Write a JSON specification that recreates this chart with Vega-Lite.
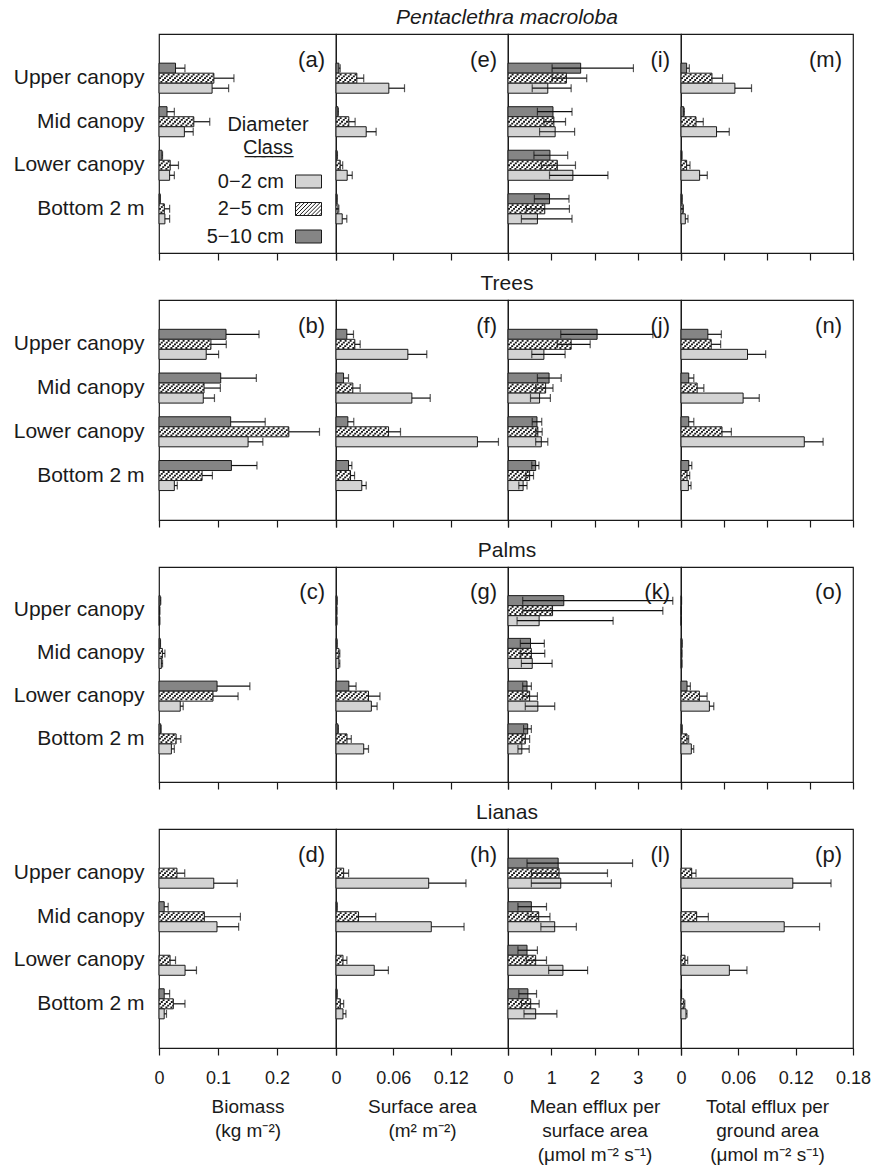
{
"$schema": "https://vega.github.io/schema/vega-lite/v6.json",
"background": "white",
"padding": {"left": 12, "top": 6, "right": 10, "bottom": 5},
"config": {
 "font": "Liberation Sans",
 "view": {"stroke": "#1a1a1a", "strokeWidth": 1.2},
 "axisX": {"tickSize": 7, "tickColor": "#1a1a1a", "tickWidth": 1.2, "domain": false, "grid": false, "labelFontSize": 18, "labelPadding": 14, "labelColor": "#1a1a1a", "labelFlush": false, "labelOverlap": false, "format": "~g", "titleFontSize": 19, "titleFontWeight": "normal", "titleColor": "#1a1a1a", "titleLineHeight": 24, "titlePadding": 10},
 "axisY": {"ticks": false, "domain": false, "grid": false, "labelFontSize": 21, "labelPadding": 15, "labelColor": "#1a1a1a", "labelLimit": 300},
 "title": {"fontSize": 21, "fontWeight": "normal", "color": "#1a1a1a", "anchor": "middle", "offset": 6},
 "legend": {"labelColor": "#1a1a1a", "titleColor": "#1a1a1a"}
},
"datasets": {"d": [
{"g":"P","m":"b","c":"Upper canopy","d":"5−10 cm","v":0.028,"hi":0.044},
{"g":"P","m":"b","c":"Upper canopy","d":"2−5 cm","v":0.093,"hi":0.127},
{"g":"P","m":"b","c":"Upper canopy","d":"0−2 cm","v":0.090,"hi":0.118},
{"g":"P","m":"b","c":"Mid canopy","d":"5−10 cm","v":0.0136,"hi":0.026},
{"g":"P","m":"b","c":"Mid canopy","d":"2−5 cm","v":0.059,"hi":0.086},
{"g":"P","m":"b","c":"Mid canopy","d":"0−2 cm","v":0.043,"hi":0.058},
{"g":"P","m":"b","c":"Lower canopy","d":"5−10 cm","v":0.005,"hi":0.006},
{"g":"P","m":"b","c":"Lower canopy","d":"2−5 cm","v":0.019,"hi":0.033},
{"g":"P","m":"b","c":"Lower canopy","d":"0−2 cm","v":0.018,"hi":0.026},
{"g":"P","m":"b","c":"Bottom 2 m","d":"5−10 cm","v":0.002,"hi":0.002},
{"g":"P","m":"b","c":"Bottom 2 m","d":"2−5 cm","v":0.009,"hi":0.018},
{"g":"P","m":"b","c":"Bottom 2 m","d":"0−2 cm","v":0.010,"hi":0.018},
{"g":"P","m":"s","c":"Upper canopy","d":"5−10 cm","v":0.003,"hi":0.0044},
{"g":"P","m":"s","c":"Upper canopy","d":"2−5 cm","v":0.0218,"hi":0.029},
{"g":"P","m":"s","c":"Upper canopy","d":"0−2 cm","v":0.0553,"hi":0.0717},
{"g":"P","m":"s","c":"Mid canopy","d":"5−10 cm","v":0.002,"hi":0.0025},
{"g":"P","m":"s","c":"Mid canopy","d":"2−5 cm","v":0.0134,"hi":0.020},
{"g":"P","m":"s","c":"Mid canopy","d":"0−2 cm","v":0.0316,"hi":0.042},
{"g":"P","m":"s","c":"Lower canopy","d":"5−10 cm","v":0.001,"hi":0.0015},
{"g":"P","m":"s","c":"Lower canopy","d":"2−5 cm","v":0.0044,"hi":0.007},
{"g":"P","m":"s","c":"Lower canopy","d":"0−2 cm","v":0.0117,"hi":0.017},
{"g":"P","m":"s","c":"Bottom 2 m","d":"5−10 cm","v":0.001,"hi":0.0012},
{"g":"P","m":"s","c":"Bottom 2 m","d":"2−5 cm","v":0.002,"hi":0.003},
{"g":"P","m":"s","c":"Bottom 2 m","d":"0−2 cm","v":0.0065,"hi":0.0113},
{"g":"P","m":"e","c":"Upper canopy","d":"5−10 cm","v":1.68,"lo":1.02,"hi":2.90},
{"g":"P","m":"e","c":"Upper canopy","d":"2−5 cm","v":1.35,"lo":1.02,"hi":1.82},
{"g":"P","m":"e","c":"Upper canopy","d":"0−2 cm","v":0.92,"lo":0.56,"hi":1.46},
{"g":"P","m":"e","c":"Mid canopy","d":"5−10 cm","v":1.04,"lo":0.68,"hi":1.48},
{"g":"P","m":"e","c":"Mid canopy","d":"2−5 cm","v":1.06,"lo":0.83,"hi":1.33},
{"g":"P","m":"e","c":"Mid canopy","d":"0−2 cm","v":1.09,"lo":0.73,"hi":1.54},
{"g":"P","m":"e","c":"Lower canopy","d":"5−10 cm","v":0.97,"lo":0.60,"hi":1.38},
{"g":"P","m":"e","c":"Lower canopy","d":"2−5 cm","v":1.14,"lo":0.77,"hi":1.56},
{"g":"P","m":"e","c":"Lower canopy","d":"0−2 cm","v":1.50,"lo":0.96,"hi":2.31},
{"g":"P","m":"e","c":"Bottom 2 m","d":"5−10 cm","v":0.96,"lo":0.61,"hi":1.41},
{"g":"P","m":"e","c":"Bottom 2 m","d":"2−5 cm","v":0.85,"lo":0.42,"hi":1.42},
{"g":"P","m":"e","c":"Bottom 2 m","d":"0−2 cm","v":0.68,"lo":0.31,"hi":1.48},
{"g":"P","m":"t","c":"Upper canopy","d":"5−10 cm","v":0.0059,"hi":0.0087},
{"g":"P","m":"t","c":"Upper canopy","d":"2−5 cm","v":0.0324,"hi":0.0435},
{"g":"P","m":"t","c":"Upper canopy","d":"0−2 cm","v":0.0564,"hi":0.0738},
{"g":"P","m":"t","c":"Mid canopy","d":"5−10 cm","v":0.0028,"hi":0.0035},
{"g":"P","m":"t","c":"Mid canopy","d":"2−5 cm","v":0.0157,"hi":0.0233},
{"g":"P","m":"t","c":"Mid canopy","d":"0−2 cm","v":0.0372,"hi":0.0505},
{"g":"P","m":"t","c":"Lower canopy","d":"5−10 cm","v":0.0008,"hi":0.001},
{"g":"P","m":"t","c":"Lower canopy","d":"2−5 cm","v":0.0059,"hi":0.0094},
{"g":"P","m":"t","c":"Lower canopy","d":"0−2 cm","v":0.0195,"hi":0.0275},
{"g":"P","m":"t","c":"Bottom 2 m","d":"5−10 cm","v":0.001,"hi":0.0012},
{"g":"P","m":"t","c":"Bottom 2 m","d":"2−5 cm","v":0.002,"hi":0.0025},
{"g":"P","m":"t","c":"Bottom 2 m","d":"0−2 cm","v":0.0045,"hi":0.0073},
{"g":"T","m":"b","c":"Upper canopy","d":"5−10 cm","v":0.1136,"hi":0.1695},
{"g":"T","m":"b","c":"Upper canopy","d":"2−5 cm","v":0.088,"hi":0.114},
{"g":"T","m":"b","c":"Upper canopy","d":"0−2 cm","v":0.080,"hi":0.101},
{"g":"T","m":"b","c":"Mid canopy","d":"5−10 cm","v":0.1046,"hi":0.165},
{"g":"T","m":"b","c":"Mid canopy","d":"2−5 cm","v":0.0763,"hi":0.104},
{"g":"T","m":"b","c":"Mid canopy","d":"0−2 cm","v":0.075,"hi":0.094},
{"g":"T","m":"b","c":"Lower canopy","d":"5−10 cm","v":0.1215,"hi":0.180},
{"g":"T","m":"b","c":"Lower canopy","d":"2−5 cm","v":0.220,"hi":0.272},
{"g":"T","m":"b","c":"Lower canopy","d":"0−2 cm","v":0.151,"hi":0.176},
{"g":"T","m":"b","c":"Bottom 2 m","d":"5−10 cm","v":0.1227,"hi":0.166},
{"g":"T","m":"b","c":"Bottom 2 m","d":"2−5 cm","v":0.073,"hi":0.0905},
{"g":"T","m":"b","c":"Bottom 2 m","d":"0−2 cm","v":0.026,"hi":0.031},
{"g":"T","m":"s","c":"Upper canopy","d":"5−10 cm","v":0.0113,"hi":0.0183},
{"g":"T","m":"s","c":"Upper canopy","d":"2−5 cm","v":0.0197,"hi":0.0253},
{"g":"T","m":"s","c":"Upper canopy","d":"0−2 cm","v":0.0752,"hi":0.095},
{"g":"T","m":"s","c":"Mid canopy","d":"5−10 cm","v":0.0079,"hi":0.0131},
{"g":"T","m":"s","c":"Mid canopy","d":"2−5 cm","v":0.0176,"hi":0.0253},
{"g":"T","m":"s","c":"Mid canopy","d":"0−2 cm","v":0.0794,"hi":0.0986},
{"g":"T","m":"s","c":"Lower canopy","d":"5−10 cm","v":0.0124,"hi":0.0186},
{"g":"T","m":"s","c":"Lower canopy","d":"2−5 cm","v":0.055,"hi":0.0675},
{"g":"T","m":"s","c":"Lower canopy","d":"0−2 cm","v":0.148,"hi":0.170},
{"g":"T","m":"s","c":"Bottom 2 m","d":"5−10 cm","v":0.0131,"hi":0.0166},
{"g":"T","m":"s","c":"Bottom 2 m","d":"2−5 cm","v":0.0152,"hi":0.0194},
{"g":"T","m":"s","c":"Bottom 2 m","d":"0−2 cm","v":0.027,"hi":0.0316},
{"g":"T","m":"e","c":"Upper canopy","d":"5−10 cm","v":2.06,"lo":1.22,"hi":3.35},
{"g":"T","m":"e","c":"Upper canopy","d":"2−5 cm","v":1.46,"lo":1.14,"hi":1.90},
{"g":"T","m":"e","c":"Upper canopy","d":"0−2 cm","v":0.83,"lo":0.55,"hi":1.32},
{"g":"T","m":"e","c":"Mid canopy","d":"5−10 cm","v":0.95,"lo":0.68,"hi":1.23},
{"g":"T","m":"e","c":"Mid canopy","d":"2−5 cm","v":0.87,"lo":0.64,"hi":1.04},
{"g":"T","m":"e","c":"Mid canopy","d":"0−2 cm","v":0.73,"lo":0.52,"hi":0.98},
{"g":"T","m":"e","c":"Lower canopy","d":"5−10 cm","v":0.67,"lo":0.56,"hi":0.78},
{"g":"T","m":"e","c":"Lower canopy","d":"2−5 cm","v":0.69,"lo":0.64,"hi":0.79},
{"g":"T","m":"e","c":"Lower canopy","d":"0−2 cm","v":0.77,"lo":0.64,"hi":0.92},
{"g":"T","m":"e","c":"Bottom 2 m","d":"5−10 cm","v":0.64,"lo":0.55,"hi":0.715},
{"g":"T","m":"e","c":"Bottom 2 m","d":"2−5 cm","v":0.50,"lo":0.41,"hi":0.59},
{"g":"T","m":"e","c":"Bottom 2 m","d":"0−2 cm","v":0.35,"lo":0.25,"hi":0.44},
{"g":"T","m":"t","c":"Upper canopy","d":"5−10 cm","v":0.0281,"hi":0.0422},
{"g":"T","m":"t","c":"Upper canopy","d":"2−5 cm","v":0.0316,"hi":0.0415},
{"g":"T","m":"t","c":"Upper canopy","d":"0−2 cm","v":0.0696,"hi":0.0886},
{"g":"T","m":"t","c":"Mid canopy","d":"5−10 cm","v":0.0081,"hi":0.0134},
{"g":"T","m":"t","c":"Mid canopy","d":"2−5 cm","v":0.0169,"hi":0.0239},
{"g":"T","m":"t","c":"Mid canopy","d":"0−2 cm","v":0.065,"hi":0.0819},
{"g":"T","m":"t","c":"Lower canopy","d":"5−10 cm","v":0.0081,"hi":0.0134},
{"g":"T","m":"t","c":"Lower canopy","d":"2−5 cm","v":0.0429,"hi":0.0527},
{"g":"T","m":"t","c":"Lower canopy","d":"0−2 cm","v":0.129,"hi":0.1487},
{"g":"T","m":"t","c":"Bottom 2 m","d":"5−10 cm","v":0.0081,"hi":0.0113},
{"g":"T","m":"t","c":"Bottom 2 m","d":"2−5 cm","v":0.0063,"hi":0.0091},
{"g":"T","m":"t","c":"Bottom 2 m","d":"0−2 cm","v":0.0077,"hi":0.0105},
{"g":"Pa","m":"b","c":"Upper canopy","d":"5−10 cm","v":0.002,"hi":0.003},
{"g":"Pa","m":"b","c":"Upper canopy","d":"2−5 cm","v":0.001,"hi":0.0015},
{"g":"Pa","m":"b","c":"Upper canopy","d":"0−2 cm","v":0.001,"hi":0.0015},
{"g":"Pa","m":"b","c":"Mid canopy","d":"5−10 cm","v":0.002,"hi":0.0025},
{"g":"Pa","m":"b","c":"Mid canopy","d":"2−5 cm","v":0.0057,"hi":0.010},
{"g":"Pa","m":"b","c":"Mid canopy","d":"0−2 cm","v":0.004,"hi":0.006},
{"g":"Pa","m":"b","c":"Lower canopy","d":"5−10 cm","v":0.0984,"hi":0.154},
{"g":"Pa","m":"b","c":"Lower canopy","d":"2−5 cm","v":0.0915,"hi":0.134},
{"g":"Pa","m":"b","c":"Lower canopy","d":"0−2 cm","v":0.036,"hi":0.041},
{"g":"Pa","m":"b","c":"Bottom 2 m","d":"5−10 cm","v":0.003,"hi":0.0035},
{"g":"Pa","m":"b","c":"Bottom 2 m","d":"2−5 cm","v":0.029,"hi":0.037},
{"g":"Pa","m":"b","c":"Bottom 2 m","d":"0−2 cm","v":0.021,"hi":0.026},
{"g":"Pa","m":"s","c":"Upper canopy","d":"5−10 cm","v":0.001,"hi":0.0012},
{"g":"Pa","m":"s","c":"Upper canopy","d":"2−5 cm","v":0.0008,"hi":0.001},
{"g":"Pa","m":"s","c":"Upper canopy","d":"0−2 cm","v":0.0008,"hi":0.001},
{"g":"Pa","m":"s","c":"Mid canopy","d":"5−10 cm","v":0.001,"hi":0.0012},
{"g":"Pa","m":"s","c":"Mid canopy","d":"2−5 cm","v":0.003,"hi":0.004},
{"g":"Pa","m":"s","c":"Mid canopy","d":"0−2 cm","v":0.003,"hi":0.004},
{"g":"Pa","m":"s","c":"Lower canopy","d":"5−10 cm","v":0.0134,"hi":0.021},
{"g":"Pa","m":"s","c":"Lower canopy","d":"2−5 cm","v":0.034,"hi":0.046},
{"g":"Pa","m":"s","c":"Lower canopy","d":"0−2 cm","v":0.037,"hi":0.043},
{"g":"Pa","m":"s","c":"Bottom 2 m","d":"5−10 cm","v":0.002,"hi":0.0025},
{"g":"Pa","m":"s","c":"Bottom 2 m","d":"2−5 cm","v":0.0115,"hi":0.016},
{"g":"Pa","m":"s","c":"Bottom 2 m","d":"0−2 cm","v":0.029,"hi":0.034},
{"g":"Pa","m":"e","c":"Upper canopy","d":"5−10 cm","v":1.29,"lo":0.34,"hi":3.81},
{"g":"Pa","m":"e","c":"Upper canopy","d":"2−5 cm","v":1.03,"lo":0.34,"hi":3.58},
{"g":"Pa","m":"e","c":"Upper canopy","d":"0−2 cm","v":0.72,"lo":0.21,"hi":2.43},
{"g":"Pa","m":"e","c":"Mid canopy","d":"5−10 cm","v":0.52,"lo":0.285,"hi":0.84},
{"g":"Pa","m":"e","c":"Mid canopy","d":"2−5 cm","v":0.54,"lo":0.285,"hi":0.85},
{"g":"Pa","m":"e","c":"Mid canopy","d":"0−2 cm","v":0.56,"lo":0.31,"hi":1.02},
{"g":"Pa","m":"e","c":"Lower canopy","d":"5−10 cm","v":0.44,"lo":0.34,"hi":0.54},
{"g":"Pa","m":"e","c":"Lower canopy","d":"2−5 cm","v":0.50,"lo":0.34,"hi":0.68},
{"g":"Pa","m":"e","c":"Lower canopy","d":"0−2 cm","v":0.69,"lo":0.40,"hi":1.08},
{"g":"Pa","m":"e","c":"Bottom 2 m","d":"5−10 cm","v":0.455,"lo":0.36,"hi":0.54},
{"g":"Pa","m":"e","c":"Bottom 2 m","d":"2−5 cm","v":0.40,"lo":0.32,"hi":0.50},
{"g":"Pa","m":"e","c":"Bottom 2 m","d":"0−2 cm","v":0.32,"lo":0.23,"hi":0.49},
{"g":"Pa","m":"t","c":"Upper canopy","d":"5−10 cm","v":0.0005,"hi":0.0006},
{"g":"Pa","m":"t","c":"Upper canopy","d":"2−5 cm","v":0.0003,"hi":0.0004},
{"g":"Pa","m":"t","c":"Upper canopy","d":"0−2 cm","v":0.0003,"hi":0.0004},
{"g":"Pa","m":"t","c":"Mid canopy","d":"5−10 cm","v":0.001,"hi":0.0012},
{"g":"Pa","m":"t","c":"Mid canopy","d":"2−5 cm","v":0.0008,"hi":0.001},
{"g":"Pa","m":"t","c":"Mid canopy","d":"0−2 cm","v":0.0008,"hi":0.001},
{"g":"Pa","m":"t","c":"Lower canopy","d":"5−10 cm","v":0.0063,"hi":0.0098},
{"g":"Pa","m":"t","c":"Lower canopy","d":"2−5 cm","v":0.0192,"hi":0.0273},
{"g":"Pa","m":"t","c":"Lower canopy","d":"0−2 cm","v":0.0297,"hi":0.0343},
{"g":"Pa","m":"t","c":"Bottom 2 m","d":"5−10 cm","v":0.001,"hi":0.0012},
{"g":"Pa","m":"t","c":"Bottom 2 m","d":"2−5 cm","v":0.0063,"hi":0.008},
{"g":"Pa","m":"t","c":"Bottom 2 m","d":"0−2 cm","v":0.0108,"hi":0.0133},
{"g":"L","m":"b","c":"Upper canopy","d":"2−5 cm","v":0.0304,"hi":0.0436},
{"g":"L","m":"b","c":"Upper canopy","d":"0−2 cm","v":0.0928,"hi":0.1326},
{"g":"L","m":"b","c":"Mid canopy","d":"5−10 cm","v":0.0088,"hi":0.0155},
{"g":"L","m":"b","c":"Mid canopy","d":"2−5 cm","v":0.0768,"hi":0.138},
{"g":"L","m":"b","c":"Mid canopy","d":"0−2 cm","v":0.0983,"hi":0.135},
{"g":"L","m":"b","c":"Lower canopy","d":"2−5 cm","v":0.0188,"hi":0.028},
{"g":"L","m":"b","c":"Lower canopy","d":"0−2 cm","v":0.0442,"hi":0.0635},
{"g":"L","m":"b","c":"Bottom 2 m","d":"5−10 cm","v":0.0088,"hi":0.018},
{"g":"L","m":"b","c":"Bottom 2 m","d":"2−5 cm","v":0.0243,"hi":0.044},
{"g":"L","m":"b","c":"Bottom 2 m","d":"0−2 cm","v":0.0088,"hi":0.0127},
{"g":"L","m":"s","c":"Upper canopy","d":"2−5 cm","v":0.008,"hi":0.0132},
{"g":"L","m":"s","c":"Upper canopy","d":"0−2 cm","v":0.097,"hi":0.136},
{"g":"L","m":"s","c":"Mid canopy","d":"5−10 cm","v":0.001,"hi":0.0012},
{"g":"L","m":"s","c":"Mid canopy","d":"2−5 cm","v":0.0236,"hi":0.0416},
{"g":"L","m":"s","c":"Mid canopy","d":"0−2 cm","v":0.0997,"hi":0.134},
{"g":"L","m":"s","c":"Lower canopy","d":"2−5 cm","v":0.0073,"hi":0.0114},
{"g":"L","m":"s","c":"Lower canopy","d":"0−2 cm","v":0.040,"hi":0.0548},
{"g":"L","m":"s","c":"Bottom 2 m","d":"5−10 cm","v":0.001,"hi":0.0012},
{"g":"L","m":"s","c":"Bottom 2 m","d":"2−5 cm","v":0.0045,"hi":0.008},
{"g":"L","m":"s","c":"Bottom 2 m","d":"0−2 cm","v":0.0073,"hi":0.0104},
{"g":"L","m":"e","c":"Upper canopy","d":"5−10 cm","v":1.16,"lo":0.44,"hi":2.88},
{"g":"L","m":"e","c":"Upper canopy","d":"2−5 cm","v":1.18,"lo":0.54,"hi":2.30},
{"g":"L","m":"e","c":"Upper canopy","d":"0−2 cm","v":1.22,"lo":0.54,"hi":2.39},
{"g":"L","m":"e","c":"Mid canopy","d":"5−10 cm","v":0.54,"lo":0.23,"hi":0.89},
{"g":"L","m":"e","c":"Mid canopy","d":"2−5 cm","v":0.71,"lo":0.46,"hi":0.97},
{"g":"L","m":"e","c":"Mid canopy","d":"0−2 cm","v":1.08,"lo":0.76,"hi":1.58},
{"g":"L","m":"e","c":"Lower canopy","d":"5−10 cm","v":0.44,"lo":0.23,"hi":0.68},
{"g":"L","m":"e","c":"Lower canopy","d":"2−5 cm","v":0.64,"lo":0.42,"hi":0.89},
{"g":"L","m":"e","c":"Lower canopy","d":"0−2 cm","v":1.27,"lo":0.94,"hi":1.84},
{"g":"L","m":"e","c":"Bottom 2 m","d":"5−10 cm","v":0.46,"lo":0.25,"hi":0.66},
{"g":"L","m":"e","c":"Bottom 2 m","d":"2−5 cm","v":0.525,"lo":0.31,"hi":0.72},
{"g":"L","m":"e","c":"Bottom 2 m","d":"0−2 cm","v":0.64,"lo":0.37,"hi":1.13},
{"g":"L","m":"t","c":"Upper canopy","d":"2−5 cm","v":0.0112,"hi":0.0157},
{"g":"L","m":"t","c":"Upper canopy","d":"0−2 cm","v":0.117,"hi":0.157},
{"g":"L","m":"t","c":"Mid canopy","d":"2−5 cm","v":0.0164,"hi":0.0286},
{"g":"L","m":"t","c":"Mid canopy","d":"0−2 cm","v":0.108,"hi":0.145},
{"g":"L","m":"t","c":"Lower canopy","d":"2−5 cm","v":0.0042,"hi":0.007},
{"g":"L","m":"t","c":"Lower canopy","d":"0−2 cm","v":0.0506,"hi":0.069},
{"g":"L","m":"t","c":"Bottom 2 m","d":"5−10 cm","v":0.0005,"hi":0.0006},
{"g":"L","m":"t","c":"Bottom 2 m","d":"2−5 cm","v":0.003,"hi":0.004},
{"g":"L","m":"t","c":"Bottom 2 m","d":"0−2 cm","v":0.0052,"hi":0.0063}
]},
"columns": 4,
"spacing": {"row": 47, "column": 0},
"bounds": "flush",
"align": "each",
"resolve": {"scale": {"fill": "independent"}, "legend": {"fill": "independent"}},
"concat": [
{"width":177,"height":219,"data":{"name":"d"},"transform":[{"filter":"datum.g=='P'&&datum.m=='b'"}],
 "encoding":{"y":{"field":"c","type":"nominal","scale":{"domain":["Upper canopy","Mid canopy","Lower canopy","Bottom 2 m"],"paddingInner":0.31,"paddingOuter":0.67},"axis":{"title":null}},
  "x":{"field":"v","type":"quantitative","scale":{"domain":[0,0.3],"nice":false},"axis":{"values":[0,0.1,0.2,0.3],"labels":false,"title":null}}},
 "layer":[
  {"mark":{"type":"bar","stroke":"#1a1a1a","strokeWidth":1},"encoding":{"yOffset":{"field":"d","type":"nominal","scale":{"domain":["5−10 cm","2−5 cm","0−2 cm"],"paddingInner":0,"paddingOuter":0}},"fill":{"field":"d","type":"nominal","scale":{"domain":["0−2 cm","2−5 cm","5−10 cm"],"range":["#d3d3d3","#ffffff","#858585"]},
   "legend":{"orient":"none","legendX":136,"legendY":134,"title":null,"labelFontSize":20,"labelAlign":"right","labelOffset":-38,"labelLimit":300,"symbolType":"M-1,-0.5H1V0.5H-1Z","symbolSize":676,"symbolStrokeColor":"#1a1a1a","symbolStrokeWidth":1,"rowPadding":3.5,
    "encode":{"symbols":{"update":{"shape":{"signal":"datum.value=='2−5 cm'?'M-1,-0.5H1V0.5H-1Z M-1,-0.4L-0.9,-0.5 M-1,-0.1L-0.6,-0.5 M-1,0.2L-0.3,-0.5 M-1,0.5L0,-0.5 M-0.7,0.5L0.3,-0.5 M-0.4,0.5L0.6,-0.5 M-0.1,0.5L0.9,-0.5 M0.2,0.5L1,-0.3 M0.5,0.5L1,0 M0.8,0.5L1,0.3':'M-1,-0.5H1V0.5H-1Z'"}}}}}}}},
  {"transform":[{"filter":"datum.d=='2−5 cm'"}],"mark":{"type":"rule","color":"#1a1a1a","strokeWidth":1.8,"strokeDash":[2,3],"yOffset":-3.6,"strokeDashOffset":-3.6},"encoding":{"x":{"datum":0,"type":"quantitative"},"x2":{"field":"v"}}},
  {"transform":[{"filter":"datum.d=='2−5 cm'"}],"mark":{"type":"rule","color":"#1a1a1a","strokeWidth":1.8,"strokeDash":[2,3],"yOffset":-1.8,"strokeDashOffset":-1.8},"encoding":{"x":{"datum":0,"type":"quantitative"},"x2":{"field":"v"}}},
  {"transform":[{"filter":"datum.d=='2−5 cm'"}],"mark":{"type":"rule","color":"#1a1a1a","strokeWidth":1.8,"strokeDash":[2,3],"yOffset":0,"strokeDashOffset":0},"encoding":{"x":{"datum":0,"type":"quantitative"},"x2":{"field":"v"}}},
  {"transform":[{"filter":"datum.d=='2−5 cm'"}],"mark":{"type":"rule","color":"#1a1a1a","strokeWidth":1.8,"strokeDash":[2,3],"yOffset":1.8,"strokeDashOffset":1.8},"encoding":{"x":{"datum":0,"type":"quantitative"},"x2":{"field":"v"}}},
  {"transform":[{"filter":"datum.d=='2−5 cm'"}],"mark":{"type":"rule","color":"#1a1a1a","strokeWidth":1.8,"strokeDash":[2,3],"yOffset":3.6,"strokeDashOffset":3.6},"encoding":{"x":{"datum":0,"type":"quantitative"},"x2":{"field":"v"}}},
  {"mark":{"type":"rule","color":"#111111","strokeWidth":1.2},"encoding":{"yOffset":{"field":"d","type":"nominal","scale":{"domain":["5−10 cm","2−5 cm","0−2 cm"],"paddingInner":0,"paddingOuter":0}},"x2":{"field":"hi"}}},
  {"mark":{"type":"tick","color":"#111111","thickness":1.2,"size":8},"encoding":{"yOffset":{"field":"d","type":"nominal","scale":{"domain":["5−10 cm","2−5 cm","0−2 cm"],"paddingInner":0,"paddingOuter":0}},"x":{"field":"hi","type":"quantitative"}}},
  {"transform":[{"filter":"datum.c=='Upper canopy'&&datum.d=='0−2 cm'"}],"mark":{"type":"text","align":"right","baseline":"middle","dx":-11,"dy":-18,"fontSize":22,"color":"#1a1a1a","text":"(a)"},"encoding":{"x":{"datum":0.3,"type":"quantitative"}}},
  {"transform":[{"filter":"datum.c=='Mid canopy'&&datum.d=='0−2 cm'"}],"mark":{"type":"text","align":"center","baseline":"middle","dy":3.3,"fontSize":20,"lineHeight":23,"color":"#1a1a1a","text":["Diameter","C̲l̲a̲s̲s̲"]},"encoding":{"x":{"datum":0.1847,"type":"quantitative"}}}
 ]},
{"width":172,"height":219,"title":{"text":"Pentaclethra macroloba","fontStyle":"italic","dx":85},"data":{"name":"d"},"transform":[{"filter":"datum.g=='P'&&datum.m=='s'"}],
 "encoding":{"y":{"field":"c","type":"nominal","scale":{"domain":["Upper canopy","Mid canopy","Lower canopy","Bottom 2 m"],"paddingInner":0.31,"paddingOuter":0.67},"axis":null},
  "x":{"field":"v","type":"quantitative","scale":{"domain":[0,0.18],"nice":false},"axis":{"values":[0,0.06,0.12,0.18],"labels":false,"title":null}}},
 "layer":[
  {"mark":{"type":"bar","stroke":"#1a1a1a","strokeWidth":1},"encoding":{"yOffset":{"field":"d","type":"nominal","scale":{"domain":["5−10 cm","2−5 cm","0−2 cm"],"paddingInner":0,"paddingOuter":0}},"fill":{"field":"d","type":"nominal","scale":{"domain":["0−2 cm","2−5 cm","5−10 cm"],"range":["#d3d3d3","#ffffff","#858585"]},"legend":null}}},
  {"transform":[{"filter":"datum.d=='2−5 cm'"}],"mark":{"type":"rule","color":"#1a1a1a","strokeWidth":1.8,"strokeDash":[2,3],"yOffset":-3.6,"strokeDashOffset":-3.6},"encoding":{"x":{"datum":0,"type":"quantitative"},"x2":{"field":"v"}}},
  {"transform":[{"filter":"datum.d=='2−5 cm'"}],"mark":{"type":"rule","color":"#1a1a1a","strokeWidth":1.8,"strokeDash":[2,3],"yOffset":-1.8,"strokeDashOffset":-1.8},"encoding":{"x":{"datum":0,"type":"quantitative"},"x2":{"field":"v"}}},
  {"transform":[{"filter":"datum.d=='2−5 cm'"}],"mark":{"type":"rule","color":"#1a1a1a","strokeWidth":1.8,"strokeDash":[2,3],"yOffset":0,"strokeDashOffset":0},"encoding":{"x":{"datum":0,"type":"quantitative"},"x2":{"field":"v"}}},
  {"transform":[{"filter":"datum.d=='2−5 cm'"}],"mark":{"type":"rule","color":"#1a1a1a","strokeWidth":1.8,"strokeDash":[2,3],"yOffset":1.8,"strokeDashOffset":1.8},"encoding":{"x":{"datum":0,"type":"quantitative"},"x2":{"field":"v"}}},
  {"transform":[{"filter":"datum.d=='2−5 cm'"}],"mark":{"type":"rule","color":"#1a1a1a","strokeWidth":1.8,"strokeDash":[2,3],"yOffset":3.6,"strokeDashOffset":3.6},"encoding":{"x":{"datum":0,"type":"quantitative"},"x2":{"field":"v"}}},
  {"mark":{"type":"rule","color":"#111111","strokeWidth":1.2},"encoding":{"yOffset":{"field":"d","type":"nominal","scale":{"domain":["5−10 cm","2−5 cm","0−2 cm"],"paddingInner":0,"paddingOuter":0}},"x2":{"field":"hi"}}},
  {"mark":{"type":"tick","color":"#111111","thickness":1.2,"size":8},"encoding":{"yOffset":{"field":"d","type":"nominal","scale":{"domain":["5−10 cm","2−5 cm","0−2 cm"],"paddingInner":0,"paddingOuter":0}},"x":{"field":"hi","type":"quantitative"}}},
  {"transform":[{"filter":"datum.c=='Upper canopy'&&datum.d=='0−2 cm'"}],"mark":{"type":"text","align":"right","baseline":"middle","dx":-11,"dy":-18,"fontSize":22,"color":"#1a1a1a","text":"(e)"},"encoding":{"x":{"datum":0.18,"type":"quantitative"}}}
 ]},
{"width":173,"height":219,"data":{"name":"d"},"transform":[{"filter":"datum.g=='P'&&datum.m=='e'"}],
 "encoding":{"y":{"field":"c","type":"nominal","scale":{"domain":["Upper canopy","Mid canopy","Lower canopy","Bottom 2 m"],"paddingInner":0.31,"paddingOuter":0.67},"axis":null},
  "x":{"field":"v","type":"quantitative","scale":{"domain":[0,4],"nice":false},"axis":{"values":[0,1,2,3,4],"labels":false,"title":null}}},
 "layer":[
  {"mark":{"type":"bar","stroke":"#1a1a1a","strokeWidth":1},"encoding":{"yOffset":{"field":"d","type":"nominal","scale":{"domain":["5−10 cm","2−5 cm","0−2 cm"],"paddingInner":0,"paddingOuter":0}},"fill":{"field":"d","type":"nominal","scale":{"domain":["0−2 cm","2−5 cm","5−10 cm"],"range":["#d3d3d3","#ffffff","#858585"]},"legend":null}}},
  {"transform":[{"filter":"datum.d=='2−5 cm'"}],"mark":{"type":"rule","color":"#1a1a1a","strokeWidth":1.8,"strokeDash":[2,3],"yOffset":-3.6,"strokeDashOffset":-3.6},"encoding":{"x":{"datum":0,"type":"quantitative"},"x2":{"field":"v"}}},
  {"transform":[{"filter":"datum.d=='2−5 cm'"}],"mark":{"type":"rule","color":"#1a1a1a","strokeWidth":1.8,"strokeDash":[2,3],"yOffset":-1.8,"strokeDashOffset":-1.8},"encoding":{"x":{"datum":0,"type":"quantitative"},"x2":{"field":"v"}}},
  {"transform":[{"filter":"datum.d=='2−5 cm'"}],"mark":{"type":"rule","color":"#1a1a1a","strokeWidth":1.8,"strokeDash":[2,3],"yOffset":0,"strokeDashOffset":0},"encoding":{"x":{"datum":0,"type":"quantitative"},"x2":{"field":"v"}}},
  {"transform":[{"filter":"datum.d=='2−5 cm'"}],"mark":{"type":"rule","color":"#1a1a1a","strokeWidth":1.8,"strokeDash":[2,3],"yOffset":1.8,"strokeDashOffset":1.8},"encoding":{"x":{"datum":0,"type":"quantitative"},"x2":{"field":"v"}}},
  {"transform":[{"filter":"datum.d=='2−5 cm'"}],"mark":{"type":"rule","color":"#1a1a1a","strokeWidth":1.8,"strokeDash":[2,3],"yOffset":3.6,"strokeDashOffset":3.6},"encoding":{"x":{"datum":0,"type":"quantitative"},"x2":{"field":"v"}}},
  {"mark":{"type":"rule","color":"#111111","strokeWidth":1.2},"encoding":{"yOffset":{"field":"d","type":"nominal","scale":{"domain":["5−10 cm","2−5 cm","0−2 cm"],"paddingInner":0,"paddingOuter":0}},"x":{"field":"lo","type":"quantitative"},"x2":{"field":"hi"}}},
  {"mark":{"type":"tick","color":"#111111","thickness":1.2,"size":8},"encoding":{"yOffset":{"field":"d","type":"nominal","scale":{"domain":["5−10 cm","2−5 cm","0−2 cm"],"paddingInner":0,"paddingOuter":0}},"x":{"field":"lo","type":"quantitative"}}},
  {"mark":{"type":"tick","color":"#111111","thickness":1.2,"size":8},"encoding":{"yOffset":{"field":"d","type":"nominal","scale":{"domain":["5−10 cm","2−5 cm","0−2 cm"],"paddingInner":0,"paddingOuter":0}},"x":{"field":"hi","type":"quantitative"}}},
  {"transform":[{"filter":"datum.c=='Upper canopy'&&datum.d=='0−2 cm'"}],"mark":{"type":"text","align":"right","baseline":"middle","dx":-11,"dy":-18,"fontSize":22,"color":"#1a1a1a","text":"(i)"},"encoding":{"x":{"datum":4,"type":"quantitative"}}}
 ]},
{"width":172,"height":219,"data":{"name":"d"},"transform":[{"filter":"datum.g=='P'&&datum.m=='t'"}],
 "encoding":{"y":{"field":"c","type":"nominal","scale":{"domain":["Upper canopy","Mid canopy","Lower canopy","Bottom 2 m"],"paddingInner":0.31,"paddingOuter":0.67},"axis":null},
  "x":{"field":"v","type":"quantitative","scale":{"domain":[0,0.18],"nice":false},"axis":{"values":[0,0.045,0.09,0.135,0.18],"labels":false,"title":null}}},
 "layer":[
  {"mark":{"type":"bar","stroke":"#1a1a1a","strokeWidth":1},"encoding":{"yOffset":{"field":"d","type":"nominal","scale":{"domain":["5−10 cm","2−5 cm","0−2 cm"],"paddingInner":0,"paddingOuter":0}},"fill":{"field":"d","type":"nominal","scale":{"domain":["0−2 cm","2−5 cm","5−10 cm"],"range":["#d3d3d3","#ffffff","#858585"]},"legend":null}}},
  {"transform":[{"filter":"datum.d=='2−5 cm'"}],"mark":{"type":"rule","color":"#1a1a1a","strokeWidth":1.8,"strokeDash":[2,3],"yOffset":-3.6,"strokeDashOffset":-3.6},"encoding":{"x":{"datum":0,"type":"quantitative"},"x2":{"field":"v"}}},
  {"transform":[{"filter":"datum.d=='2−5 cm'"}],"mark":{"type":"rule","color":"#1a1a1a","strokeWidth":1.8,"strokeDash":[2,3],"yOffset":-1.8,"strokeDashOffset":-1.8},"encoding":{"x":{"datum":0,"type":"quantitative"},"x2":{"field":"v"}}},
  {"transform":[{"filter":"datum.d=='2−5 cm'"}],"mark":{"type":"rule","color":"#1a1a1a","strokeWidth":1.8,"strokeDash":[2,3],"yOffset":0,"strokeDashOffset":0},"encoding":{"x":{"datum":0,"type":"quantitative"},"x2":{"field":"v"}}},
  {"transform":[{"filter":"datum.d=='2−5 cm'"}],"mark":{"type":"rule","color":"#1a1a1a","strokeWidth":1.8,"strokeDash":[2,3],"yOffset":1.8,"strokeDashOffset":1.8},"encoding":{"x":{"datum":0,"type":"quantitative"},"x2":{"field":"v"}}},
  {"transform":[{"filter":"datum.d=='2−5 cm'"}],"mark":{"type":"rule","color":"#1a1a1a","strokeWidth":1.8,"strokeDash":[2,3],"yOffset":3.6,"strokeDashOffset":3.6},"encoding":{"x":{"datum":0,"type":"quantitative"},"x2":{"field":"v"}}},
  {"mark":{"type":"rule","color":"#111111","strokeWidth":1.2},"encoding":{"yOffset":{"field":"d","type":"nominal","scale":{"domain":["5−10 cm","2−5 cm","0−2 cm"],"paddingInner":0,"paddingOuter":0}},"x2":{"field":"hi"}}},
  {"mark":{"type":"tick","color":"#111111","thickness":1.2,"size":8},"encoding":{"yOffset":{"field":"d","type":"nominal","scale":{"domain":["5−10 cm","2−5 cm","0−2 cm"],"paddingInner":0,"paddingOuter":0}},"x":{"field":"hi","type":"quantitative"}}},
  {"transform":[{"filter":"datum.c=='Upper canopy'&&datum.d=='0−2 cm'"}],"mark":{"type":"text","align":"right","baseline":"middle","dx":-11,"dy":-18,"fontSize":22,"color":"#1a1a1a","text":"(m)"},"encoding":{"x":{"datum":0.18,"type":"quantitative"}}}
 ]},
{"width":177,"height":220,"data":{"name":"d"},"transform":[{"filter":"datum.g=='T'&&datum.m=='b'"}],
 "encoding":{"y":{"field":"c","type":"nominal","scale":{"domain":["Upper canopy","Mid canopy","Lower canopy","Bottom 2 m"],"paddingInner":0.31,"paddingOuter":0.67},"axis":{"title":null}},
  "x":{"field":"v","type":"quantitative","scale":{"domain":[0,0.3],"nice":false},"axis":{"values":[0,0.1,0.2,0.3],"labels":false,"title":null}}},
 "layer":[
  {"mark":{"type":"bar","stroke":"#1a1a1a","strokeWidth":1},"encoding":{"yOffset":{"field":"d","type":"nominal","scale":{"domain":["5−10 cm","2−5 cm","0−2 cm"],"paddingInner":0,"paddingOuter":0}},"fill":{"field":"d","type":"nominal","scale":{"domain":["0−2 cm","2−5 cm","5−10 cm"],"range":["#d3d3d3","#ffffff","#858585"]},"legend":null}}},
  {"transform":[{"filter":"datum.d=='2−5 cm'"}],"mark":{"type":"rule","color":"#1a1a1a","strokeWidth":1.8,"strokeDash":[2,3],"yOffset":-3.6,"strokeDashOffset":-3.6},"encoding":{"x":{"datum":0,"type":"quantitative"},"x2":{"field":"v"}}},
  {"transform":[{"filter":"datum.d=='2−5 cm'"}],"mark":{"type":"rule","color":"#1a1a1a","strokeWidth":1.8,"strokeDash":[2,3],"yOffset":-1.8,"strokeDashOffset":-1.8},"encoding":{"x":{"datum":0,"type":"quantitative"},"x2":{"field":"v"}}},
  {"transform":[{"filter":"datum.d=='2−5 cm'"}],"mark":{"type":"rule","color":"#1a1a1a","strokeWidth":1.8,"strokeDash":[2,3],"yOffset":0,"strokeDashOffset":0},"encoding":{"x":{"datum":0,"type":"quantitative"},"x2":{"field":"v"}}},
  {"transform":[{"filter":"datum.d=='2−5 cm'"}],"mark":{"type":"rule","color":"#1a1a1a","strokeWidth":1.8,"strokeDash":[2,3],"yOffset":1.8,"strokeDashOffset":1.8},"encoding":{"x":{"datum":0,"type":"quantitative"},"x2":{"field":"v"}}},
  {"transform":[{"filter":"datum.d=='2−5 cm'"}],"mark":{"type":"rule","color":"#1a1a1a","strokeWidth":1.8,"strokeDash":[2,3],"yOffset":3.6,"strokeDashOffset":3.6},"encoding":{"x":{"datum":0,"type":"quantitative"},"x2":{"field":"v"}}},
  {"mark":{"type":"rule","color":"#111111","strokeWidth":1.2},"encoding":{"yOffset":{"field":"d","type":"nominal","scale":{"domain":["5−10 cm","2−5 cm","0−2 cm"],"paddingInner":0,"paddingOuter":0}},"x2":{"field":"hi"}}},
  {"mark":{"type":"tick","color":"#111111","thickness":1.2,"size":8},"encoding":{"yOffset":{"field":"d","type":"nominal","scale":{"domain":["5−10 cm","2−5 cm","0−2 cm"],"paddingInner":0,"paddingOuter":0}},"x":{"field":"hi","type":"quantitative"}}},
  {"transform":[{"filter":"datum.c=='Upper canopy'&&datum.d=='0−2 cm'"}],"mark":{"type":"text","align":"right","baseline":"middle","dx":-11,"dy":-18,"fontSize":22,"color":"#1a1a1a","text":"(b)"},"encoding":{"x":{"datum":0.3,"type":"quantitative"}}}
 ]},
{"width":172,"height":220,"title":{"text":"Trees","dx":85},"data":{"name":"d"},"transform":[{"filter":"datum.g=='T'&&datum.m=='s'"}],
 "encoding":{"y":{"field":"c","type":"nominal","scale":{"domain":["Upper canopy","Mid canopy","Lower canopy","Bottom 2 m"],"paddingInner":0.31,"paddingOuter":0.67},"axis":null},
  "x":{"field":"v","type":"quantitative","scale":{"domain":[0,0.18],"nice":false},"axis":{"values":[0,0.06,0.12,0.18],"labels":false,"title":null}}},
 "layer":[
  {"mark":{"type":"bar","stroke":"#1a1a1a","strokeWidth":1},"encoding":{"yOffset":{"field":"d","type":"nominal","scale":{"domain":["5−10 cm","2−5 cm","0−2 cm"],"paddingInner":0,"paddingOuter":0}},"fill":{"field":"d","type":"nominal","scale":{"domain":["0−2 cm","2−5 cm","5−10 cm"],"range":["#d3d3d3","#ffffff","#858585"]},"legend":null}}},
  {"transform":[{"filter":"datum.d=='2−5 cm'"}],"mark":{"type":"rule","color":"#1a1a1a","strokeWidth":1.8,"strokeDash":[2,3],"yOffset":-3.6,"strokeDashOffset":-3.6},"encoding":{"x":{"datum":0,"type":"quantitative"},"x2":{"field":"v"}}},
  {"transform":[{"filter":"datum.d=='2−5 cm'"}],"mark":{"type":"rule","color":"#1a1a1a","strokeWidth":1.8,"strokeDash":[2,3],"yOffset":-1.8,"strokeDashOffset":-1.8},"encoding":{"x":{"datum":0,"type":"quantitative"},"x2":{"field":"v"}}},
  {"transform":[{"filter":"datum.d=='2−5 cm'"}],"mark":{"type":"rule","color":"#1a1a1a","strokeWidth":1.8,"strokeDash":[2,3],"yOffset":0,"strokeDashOffset":0},"encoding":{"x":{"datum":0,"type":"quantitative"},"x2":{"field":"v"}}},
  {"transform":[{"filter":"datum.d=='2−5 cm'"}],"mark":{"type":"rule","color":"#1a1a1a","strokeWidth":1.8,"strokeDash":[2,3],"yOffset":1.8,"strokeDashOffset":1.8},"encoding":{"x":{"datum":0,"type":"quantitative"},"x2":{"field":"v"}}},
  {"transform":[{"filter":"datum.d=='2−5 cm'"}],"mark":{"type":"rule","color":"#1a1a1a","strokeWidth":1.8,"strokeDash":[2,3],"yOffset":3.6,"strokeDashOffset":3.6},"encoding":{"x":{"datum":0,"type":"quantitative"},"x2":{"field":"v"}}},
  {"mark":{"type":"rule","color":"#111111","strokeWidth":1.2},"encoding":{"yOffset":{"field":"d","type":"nominal","scale":{"domain":["5−10 cm","2−5 cm","0−2 cm"],"paddingInner":0,"paddingOuter":0}},"x2":{"field":"hi"}}},
  {"mark":{"type":"tick","color":"#111111","thickness":1.2,"size":8},"encoding":{"yOffset":{"field":"d","type":"nominal","scale":{"domain":["5−10 cm","2−5 cm","0−2 cm"],"paddingInner":0,"paddingOuter":0}},"x":{"field":"hi","type":"quantitative"}}},
  {"transform":[{"filter":"datum.c=='Upper canopy'&&datum.d=='0−2 cm'"}],"mark":{"type":"text","align":"right","baseline":"middle","dx":-11,"dy":-18,"fontSize":22,"color":"#1a1a1a","text":"(f)"},"encoding":{"x":{"datum":0.18,"type":"quantitative"}}}
 ]},
{"width":173,"height":220,"data":{"name":"d"},"transform":[{"filter":"datum.g=='T'&&datum.m=='e'"}],
 "encoding":{"y":{"field":"c","type":"nominal","scale":{"domain":["Upper canopy","Mid canopy","Lower canopy","Bottom 2 m"],"paddingInner":0.31,"paddingOuter":0.67},"axis":null},
  "x":{"field":"v","type":"quantitative","scale":{"domain":[0,4],"nice":false},"axis":{"values":[0,1,2,3,4],"labels":false,"title":null}}},
 "layer":[
  {"mark":{"type":"bar","stroke":"#1a1a1a","strokeWidth":1},"encoding":{"yOffset":{"field":"d","type":"nominal","scale":{"domain":["5−10 cm","2−5 cm","0−2 cm"],"paddingInner":0,"paddingOuter":0}},"fill":{"field":"d","type":"nominal","scale":{"domain":["0−2 cm","2−5 cm","5−10 cm"],"range":["#d3d3d3","#ffffff","#858585"]},"legend":null}}},
  {"transform":[{"filter":"datum.d=='2−5 cm'"}],"mark":{"type":"rule","color":"#1a1a1a","strokeWidth":1.8,"strokeDash":[2,3],"yOffset":-3.6,"strokeDashOffset":-3.6},"encoding":{"x":{"datum":0,"type":"quantitative"},"x2":{"field":"v"}}},
  {"transform":[{"filter":"datum.d=='2−5 cm'"}],"mark":{"type":"rule","color":"#1a1a1a","strokeWidth":1.8,"strokeDash":[2,3],"yOffset":-1.8,"strokeDashOffset":-1.8},"encoding":{"x":{"datum":0,"type":"quantitative"},"x2":{"field":"v"}}},
  {"transform":[{"filter":"datum.d=='2−5 cm'"}],"mark":{"type":"rule","color":"#1a1a1a","strokeWidth":1.8,"strokeDash":[2,3],"yOffset":0,"strokeDashOffset":0},"encoding":{"x":{"datum":0,"type":"quantitative"},"x2":{"field":"v"}}},
  {"transform":[{"filter":"datum.d=='2−5 cm'"}],"mark":{"type":"rule","color":"#1a1a1a","strokeWidth":1.8,"strokeDash":[2,3],"yOffset":1.8,"strokeDashOffset":1.8},"encoding":{"x":{"datum":0,"type":"quantitative"},"x2":{"field":"v"}}},
  {"transform":[{"filter":"datum.d=='2−5 cm'"}],"mark":{"type":"rule","color":"#1a1a1a","strokeWidth":1.8,"strokeDash":[2,3],"yOffset":3.6,"strokeDashOffset":3.6},"encoding":{"x":{"datum":0,"type":"quantitative"},"x2":{"field":"v"}}},
  {"mark":{"type":"rule","color":"#111111","strokeWidth":1.2},"encoding":{"yOffset":{"field":"d","type":"nominal","scale":{"domain":["5−10 cm","2−5 cm","0−2 cm"],"paddingInner":0,"paddingOuter":0}},"x":{"field":"lo","type":"quantitative"},"x2":{"field":"hi"}}},
  {"mark":{"type":"tick","color":"#111111","thickness":1.2,"size":8},"encoding":{"yOffset":{"field":"d","type":"nominal","scale":{"domain":["5−10 cm","2−5 cm","0−2 cm"],"paddingInner":0,"paddingOuter":0}},"x":{"field":"lo","type":"quantitative"}}},
  {"mark":{"type":"tick","color":"#111111","thickness":1.2,"size":8},"encoding":{"yOffset":{"field":"d","type":"nominal","scale":{"domain":["5−10 cm","2−5 cm","0−2 cm"],"paddingInner":0,"paddingOuter":0}},"x":{"field":"hi","type":"quantitative"}}},
  {"transform":[{"filter":"datum.c=='Upper canopy'&&datum.d=='0−2 cm'"}],"mark":{"type":"text","align":"right","baseline":"middle","dx":-11,"dy":-18,"fontSize":22,"color":"#1a1a1a","text":"(j)"},"encoding":{"x":{"datum":4,"type":"quantitative"}}}
 ]},
{"width":172,"height":220,"data":{"name":"d"},"transform":[{"filter":"datum.g=='T'&&datum.m=='t'"}],
 "encoding":{"y":{"field":"c","type":"nominal","scale":{"domain":["Upper canopy","Mid canopy","Lower canopy","Bottom 2 m"],"paddingInner":0.31,"paddingOuter":0.67},"axis":null},
  "x":{"field":"v","type":"quantitative","scale":{"domain":[0,0.18],"nice":false},"axis":{"values":[0,0.045,0.09,0.135,0.18],"labels":false,"title":null}}},
 "layer":[
  {"mark":{"type":"bar","stroke":"#1a1a1a","strokeWidth":1},"encoding":{"yOffset":{"field":"d","type":"nominal","scale":{"domain":["5−10 cm","2−5 cm","0−2 cm"],"paddingInner":0,"paddingOuter":0}},"fill":{"field":"d","type":"nominal","scale":{"domain":["0−2 cm","2−5 cm","5−10 cm"],"range":["#d3d3d3","#ffffff","#858585"]},"legend":null}}},
  {"transform":[{"filter":"datum.d=='2−5 cm'"}],"mark":{"type":"rule","color":"#1a1a1a","strokeWidth":1.8,"strokeDash":[2,3],"yOffset":-3.6,"strokeDashOffset":-3.6},"encoding":{"x":{"datum":0,"type":"quantitative"},"x2":{"field":"v"}}},
  {"transform":[{"filter":"datum.d=='2−5 cm'"}],"mark":{"type":"rule","color":"#1a1a1a","strokeWidth":1.8,"strokeDash":[2,3],"yOffset":-1.8,"strokeDashOffset":-1.8},"encoding":{"x":{"datum":0,"type":"quantitative"},"x2":{"field":"v"}}},
  {"transform":[{"filter":"datum.d=='2−5 cm'"}],"mark":{"type":"rule","color":"#1a1a1a","strokeWidth":1.8,"strokeDash":[2,3],"yOffset":0,"strokeDashOffset":0},"encoding":{"x":{"datum":0,"type":"quantitative"},"x2":{"field":"v"}}},
  {"transform":[{"filter":"datum.d=='2−5 cm'"}],"mark":{"type":"rule","color":"#1a1a1a","strokeWidth":1.8,"strokeDash":[2,3],"yOffset":1.8,"strokeDashOffset":1.8},"encoding":{"x":{"datum":0,"type":"quantitative"},"x2":{"field":"v"}}},
  {"transform":[{"filter":"datum.d=='2−5 cm'"}],"mark":{"type":"rule","color":"#1a1a1a","strokeWidth":1.8,"strokeDash":[2,3],"yOffset":3.6,"strokeDashOffset":3.6},"encoding":{"x":{"datum":0,"type":"quantitative"},"x2":{"field":"v"}}},
  {"mark":{"type":"rule","color":"#111111","strokeWidth":1.2},"encoding":{"yOffset":{"field":"d","type":"nominal","scale":{"domain":["5−10 cm","2−5 cm","0−2 cm"],"paddingInner":0,"paddingOuter":0}},"x2":{"field":"hi"}}},
  {"mark":{"type":"tick","color":"#111111","thickness":1.2,"size":8},"encoding":{"yOffset":{"field":"d","type":"nominal","scale":{"domain":["5−10 cm","2−5 cm","0−2 cm"],"paddingInner":0,"paddingOuter":0}},"x":{"field":"hi","type":"quantitative"}}},
  {"transform":[{"filter":"datum.c=='Upper canopy'&&datum.d=='0−2 cm'"}],"mark":{"type":"text","align":"right","baseline":"middle","dx":-11,"dy":-18,"fontSize":22,"color":"#1a1a1a","text":"(n)"},"encoding":{"x":{"datum":0.18,"type":"quantitative"}}}
 ]},
{"width":177,"height":215,"data":{"name":"d"},"transform":[{"filter":"datum.g=='Pa'&&datum.m=='b'"}],
 "encoding":{"y":{"field":"c","type":"nominal","scale":{"domain":["Upper canopy","Mid canopy","Lower canopy","Bottom 2 m"],"paddingInner":0.31,"paddingOuter":0.67},"axis":{"title":null}},
  "x":{"field":"v","type":"quantitative","scale":{"domain":[0,0.3],"nice":false},"axis":{"values":[0,0.1,0.2,0.3],"labels":false,"title":null}}},
 "layer":[
  {"mark":{"type":"bar","stroke":"#1a1a1a","strokeWidth":1},"encoding":{"yOffset":{"field":"d","type":"nominal","scale":{"domain":["5−10 cm","2−5 cm","0−2 cm"],"paddingInner":0,"paddingOuter":0}},"fill":{"field":"d","type":"nominal","scale":{"domain":["0−2 cm","2−5 cm","5−10 cm"],"range":["#d3d3d3","#ffffff","#858585"]},"legend":null}}},
  {"transform":[{"filter":"datum.d=='2−5 cm'"}],"mark":{"type":"rule","color":"#1a1a1a","strokeWidth":1.8,"strokeDash":[2,3],"yOffset":-3.6,"strokeDashOffset":-3.6},"encoding":{"x":{"datum":0,"type":"quantitative"},"x2":{"field":"v"}}},
  {"transform":[{"filter":"datum.d=='2−5 cm'"}],"mark":{"type":"rule","color":"#1a1a1a","strokeWidth":1.8,"strokeDash":[2,3],"yOffset":-1.8,"strokeDashOffset":-1.8},"encoding":{"x":{"datum":0,"type":"quantitative"},"x2":{"field":"v"}}},
  {"transform":[{"filter":"datum.d=='2−5 cm'"}],"mark":{"type":"rule","color":"#1a1a1a","strokeWidth":1.8,"strokeDash":[2,3],"yOffset":0,"strokeDashOffset":0},"encoding":{"x":{"datum":0,"type":"quantitative"},"x2":{"field":"v"}}},
  {"transform":[{"filter":"datum.d=='2−5 cm'"}],"mark":{"type":"rule","color":"#1a1a1a","strokeWidth":1.8,"strokeDash":[2,3],"yOffset":1.8,"strokeDashOffset":1.8},"encoding":{"x":{"datum":0,"type":"quantitative"},"x2":{"field":"v"}}},
  {"transform":[{"filter":"datum.d=='2−5 cm'"}],"mark":{"type":"rule","color":"#1a1a1a","strokeWidth":1.8,"strokeDash":[2,3],"yOffset":3.6,"strokeDashOffset":3.6},"encoding":{"x":{"datum":0,"type":"quantitative"},"x2":{"field":"v"}}},
  {"mark":{"type":"rule","color":"#111111","strokeWidth":1.2},"encoding":{"yOffset":{"field":"d","type":"nominal","scale":{"domain":["5−10 cm","2−5 cm","0−2 cm"],"paddingInner":0,"paddingOuter":0}},"x2":{"field":"hi"}}},
  {"mark":{"type":"tick","color":"#111111","thickness":1.2,"size":8},"encoding":{"yOffset":{"field":"d","type":"nominal","scale":{"domain":["5−10 cm","2−5 cm","0−2 cm"],"paddingInner":0,"paddingOuter":0}},"x":{"field":"hi","type":"quantitative"}}},
  {"transform":[{"filter":"datum.c=='Upper canopy'&&datum.d=='0−2 cm'"}],"mark":{"type":"text","align":"right","baseline":"middle","dx":-11,"dy":-18,"fontSize":22,"color":"#1a1a1a","text":"(c)"},"encoding":{"x":{"datum":0.3,"type":"quantitative"}}}
 ]},
{"width":172,"height":215,"title":{"text":"Palms","dx":85},"data":{"name":"d"},"transform":[{"filter":"datum.g=='Pa'&&datum.m=='s'"}],
 "encoding":{"y":{"field":"c","type":"nominal","scale":{"domain":["Upper canopy","Mid canopy","Lower canopy","Bottom 2 m"],"paddingInner":0.31,"paddingOuter":0.67},"axis":null},
  "x":{"field":"v","type":"quantitative","scale":{"domain":[0,0.18],"nice":false},"axis":{"values":[0,0.06,0.12,0.18],"labels":false,"title":null}}},
 "layer":[
  {"mark":{"type":"bar","stroke":"#1a1a1a","strokeWidth":1},"encoding":{"yOffset":{"field":"d","type":"nominal","scale":{"domain":["5−10 cm","2−5 cm","0−2 cm"],"paddingInner":0,"paddingOuter":0}},"fill":{"field":"d","type":"nominal","scale":{"domain":["0−2 cm","2−5 cm","5−10 cm"],"range":["#d3d3d3","#ffffff","#858585"]},"legend":null}}},
  {"transform":[{"filter":"datum.d=='2−5 cm'"}],"mark":{"type":"rule","color":"#1a1a1a","strokeWidth":1.8,"strokeDash":[2,3],"yOffset":-3.6,"strokeDashOffset":-3.6},"encoding":{"x":{"datum":0,"type":"quantitative"},"x2":{"field":"v"}}},
  {"transform":[{"filter":"datum.d=='2−5 cm'"}],"mark":{"type":"rule","color":"#1a1a1a","strokeWidth":1.8,"strokeDash":[2,3],"yOffset":-1.8,"strokeDashOffset":-1.8},"encoding":{"x":{"datum":0,"type":"quantitative"},"x2":{"field":"v"}}},
  {"transform":[{"filter":"datum.d=='2−5 cm'"}],"mark":{"type":"rule","color":"#1a1a1a","strokeWidth":1.8,"strokeDash":[2,3],"yOffset":0,"strokeDashOffset":0},"encoding":{"x":{"datum":0,"type":"quantitative"},"x2":{"field":"v"}}},
  {"transform":[{"filter":"datum.d=='2−5 cm'"}],"mark":{"type":"rule","color":"#1a1a1a","strokeWidth":1.8,"strokeDash":[2,3],"yOffset":1.8,"strokeDashOffset":1.8},"encoding":{"x":{"datum":0,"type":"quantitative"},"x2":{"field":"v"}}},
  {"transform":[{"filter":"datum.d=='2−5 cm'"}],"mark":{"type":"rule","color":"#1a1a1a","strokeWidth":1.8,"strokeDash":[2,3],"yOffset":3.6,"strokeDashOffset":3.6},"encoding":{"x":{"datum":0,"type":"quantitative"},"x2":{"field":"v"}}},
  {"mark":{"type":"rule","color":"#111111","strokeWidth":1.2},"encoding":{"yOffset":{"field":"d","type":"nominal","scale":{"domain":["5−10 cm","2−5 cm","0−2 cm"],"paddingInner":0,"paddingOuter":0}},"x2":{"field":"hi"}}},
  {"mark":{"type":"tick","color":"#111111","thickness":1.2,"size":8},"encoding":{"yOffset":{"field":"d","type":"nominal","scale":{"domain":["5−10 cm","2−5 cm","0−2 cm"],"paddingInner":0,"paddingOuter":0}},"x":{"field":"hi","type":"quantitative"}}},
  {"transform":[{"filter":"datum.c=='Upper canopy'&&datum.d=='0−2 cm'"}],"mark":{"type":"text","align":"right","baseline":"middle","dx":-11,"dy":-18,"fontSize":22,"color":"#1a1a1a","text":"(g)"},"encoding":{"x":{"datum":0.18,"type":"quantitative"}}}
 ]},
{"width":173,"height":215,"data":{"name":"d"},"transform":[{"filter":"datum.g=='Pa'&&datum.m=='e'"}],
 "encoding":{"y":{"field":"c","type":"nominal","scale":{"domain":["Upper canopy","Mid canopy","Lower canopy","Bottom 2 m"],"paddingInner":0.31,"paddingOuter":0.67},"axis":null},
  "x":{"field":"v","type":"quantitative","scale":{"domain":[0,4],"nice":false},"axis":{"values":[0,1,2,3,4],"labels":false,"title":null}}},
 "layer":[
  {"mark":{"type":"bar","stroke":"#1a1a1a","strokeWidth":1},"encoding":{"yOffset":{"field":"d","type":"nominal","scale":{"domain":["5−10 cm","2−5 cm","0−2 cm"],"paddingInner":0,"paddingOuter":0}},"fill":{"field":"d","type":"nominal","scale":{"domain":["0−2 cm","2−5 cm","5−10 cm"],"range":["#d3d3d3","#ffffff","#858585"]},"legend":null}}},
  {"transform":[{"filter":"datum.d=='2−5 cm'"}],"mark":{"type":"rule","color":"#1a1a1a","strokeWidth":1.8,"strokeDash":[2,3],"yOffset":-3.6,"strokeDashOffset":-3.6},"encoding":{"x":{"datum":0,"type":"quantitative"},"x2":{"field":"v"}}},
  {"transform":[{"filter":"datum.d=='2−5 cm'"}],"mark":{"type":"rule","color":"#1a1a1a","strokeWidth":1.8,"strokeDash":[2,3],"yOffset":-1.8,"strokeDashOffset":-1.8},"encoding":{"x":{"datum":0,"type":"quantitative"},"x2":{"field":"v"}}},
  {"transform":[{"filter":"datum.d=='2−5 cm'"}],"mark":{"type":"rule","color":"#1a1a1a","strokeWidth":1.8,"strokeDash":[2,3],"yOffset":0,"strokeDashOffset":0},"encoding":{"x":{"datum":0,"type":"quantitative"},"x2":{"field":"v"}}},
  {"transform":[{"filter":"datum.d=='2−5 cm'"}],"mark":{"type":"rule","color":"#1a1a1a","strokeWidth":1.8,"strokeDash":[2,3],"yOffset":1.8,"strokeDashOffset":1.8},"encoding":{"x":{"datum":0,"type":"quantitative"},"x2":{"field":"v"}}},
  {"transform":[{"filter":"datum.d=='2−5 cm'"}],"mark":{"type":"rule","color":"#1a1a1a","strokeWidth":1.8,"strokeDash":[2,3],"yOffset":3.6,"strokeDashOffset":3.6},"encoding":{"x":{"datum":0,"type":"quantitative"},"x2":{"field":"v"}}},
  {"mark":{"type":"rule","color":"#111111","strokeWidth":1.2},"encoding":{"yOffset":{"field":"d","type":"nominal","scale":{"domain":["5−10 cm","2−5 cm","0−2 cm"],"paddingInner":0,"paddingOuter":0}},"x":{"field":"lo","type":"quantitative"},"x2":{"field":"hi"}}},
  {"mark":{"type":"tick","color":"#111111","thickness":1.2,"size":8},"encoding":{"yOffset":{"field":"d","type":"nominal","scale":{"domain":["5−10 cm","2−5 cm","0−2 cm"],"paddingInner":0,"paddingOuter":0}},"x":{"field":"lo","type":"quantitative"}}},
  {"mark":{"type":"tick","color":"#111111","thickness":1.2,"size":8},"encoding":{"yOffset":{"field":"d","type":"nominal","scale":{"domain":["5−10 cm","2−5 cm","0−2 cm"],"paddingInner":0,"paddingOuter":0}},"x":{"field":"hi","type":"quantitative"}}},
  {"transform":[{"filter":"datum.c=='Upper canopy'&&datum.d=='0−2 cm'"}],"mark":{"type":"text","align":"right","baseline":"middle","dx":-11,"dy":-18,"fontSize":22,"color":"#1a1a1a","text":"(k)"},"encoding":{"x":{"datum":4,"type":"quantitative"}}}
 ]},
{"width":172,"height":215,"data":{"name":"d"},"transform":[{"filter":"datum.g=='Pa'&&datum.m=='t'"}],
 "encoding":{"y":{"field":"c","type":"nominal","scale":{"domain":["Upper canopy","Mid canopy","Lower canopy","Bottom 2 m"],"paddingInner":0.31,"paddingOuter":0.67},"axis":null},
  "x":{"field":"v","type":"quantitative","scale":{"domain":[0,0.18],"nice":false},"axis":{"values":[0,0.045,0.09,0.135,0.18],"labels":false,"title":null}}},
 "layer":[
  {"mark":{"type":"bar","stroke":"#1a1a1a","strokeWidth":1},"encoding":{"yOffset":{"field":"d","type":"nominal","scale":{"domain":["5−10 cm","2−5 cm","0−2 cm"],"paddingInner":0,"paddingOuter":0}},"fill":{"field":"d","type":"nominal","scale":{"domain":["0−2 cm","2−5 cm","5−10 cm"],"range":["#d3d3d3","#ffffff","#858585"]},"legend":null}}},
  {"transform":[{"filter":"datum.d=='2−5 cm'"}],"mark":{"type":"rule","color":"#1a1a1a","strokeWidth":1.8,"strokeDash":[2,3],"yOffset":-3.6,"strokeDashOffset":-3.6},"encoding":{"x":{"datum":0,"type":"quantitative"},"x2":{"field":"v"}}},
  {"transform":[{"filter":"datum.d=='2−5 cm'"}],"mark":{"type":"rule","color":"#1a1a1a","strokeWidth":1.8,"strokeDash":[2,3],"yOffset":-1.8,"strokeDashOffset":-1.8},"encoding":{"x":{"datum":0,"type":"quantitative"},"x2":{"field":"v"}}},
  {"transform":[{"filter":"datum.d=='2−5 cm'"}],"mark":{"type":"rule","color":"#1a1a1a","strokeWidth":1.8,"strokeDash":[2,3],"yOffset":0,"strokeDashOffset":0},"encoding":{"x":{"datum":0,"type":"quantitative"},"x2":{"field":"v"}}},
  {"transform":[{"filter":"datum.d=='2−5 cm'"}],"mark":{"type":"rule","color":"#1a1a1a","strokeWidth":1.8,"strokeDash":[2,3],"yOffset":1.8,"strokeDashOffset":1.8},"encoding":{"x":{"datum":0,"type":"quantitative"},"x2":{"field":"v"}}},
  {"transform":[{"filter":"datum.d=='2−5 cm'"}],"mark":{"type":"rule","color":"#1a1a1a","strokeWidth":1.8,"strokeDash":[2,3],"yOffset":3.6,"strokeDashOffset":3.6},"encoding":{"x":{"datum":0,"type":"quantitative"},"x2":{"field":"v"}}},
  {"mark":{"type":"rule","color":"#111111","strokeWidth":1.2},"encoding":{"yOffset":{"field":"d","type":"nominal","scale":{"domain":["5−10 cm","2−5 cm","0−2 cm"],"paddingInner":0,"paddingOuter":0}},"x2":{"field":"hi"}}},
  {"mark":{"type":"tick","color":"#111111","thickness":1.2,"size":8},"encoding":{"yOffset":{"field":"d","type":"nominal","scale":{"domain":["5−10 cm","2−5 cm","0−2 cm"],"paddingInner":0,"paddingOuter":0}},"x":{"field":"hi","type":"quantitative"}}},
  {"transform":[{"filter":"datum.c=='Upper canopy'&&datum.d=='0−2 cm'"}],"mark":{"type":"text","align":"right","baseline":"middle","dx":-11,"dy":-18,"fontSize":22,"color":"#1a1a1a","text":"(o)"},"encoding":{"x":{"datum":0.18,"type":"quantitative"}}}
 ]},
{"width":177,"height":219,"data":{"name":"d"},"transform":[{"filter":"datum.g=='L'&&datum.m=='b'"}],
 "encoding":{"y":{"field":"c","type":"nominal","scale":{"domain":["Upper canopy","Mid canopy","Lower canopy","Bottom 2 m"],"paddingInner":0.31,"paddingOuter":0.67},"axis":{"title":null}},
  "x":{"field":"v","type":"quantitative","scale":{"domain":[0,0.3],"nice":false},"axis":{"values":[0,0.1,0.2,0.3],"labelExpr":"datum.value>0.29?'':datum.label","title":["Biomass","(kg m⁻²)"]}}},
 "layer":[
  {"mark":{"type":"bar","stroke":"#1a1a1a","strokeWidth":1},"encoding":{"yOffset":{"field":"d","type":"nominal","scale":{"domain":["5−10 cm","2−5 cm","0−2 cm"],"paddingInner":0,"paddingOuter":0}},"fill":{"field":"d","type":"nominal","scale":{"domain":["0−2 cm","2−5 cm","5−10 cm"],"range":["#d3d3d3","#ffffff","#858585"]},"legend":null}}},
  {"transform":[{"filter":"datum.d=='2−5 cm'"}],"mark":{"type":"rule","color":"#1a1a1a","strokeWidth":1.8,"strokeDash":[2,3],"yOffset":-3.6,"strokeDashOffset":-3.6},"encoding":{"x":{"datum":0,"type":"quantitative"},"x2":{"field":"v"}}},
  {"transform":[{"filter":"datum.d=='2−5 cm'"}],"mark":{"type":"rule","color":"#1a1a1a","strokeWidth":1.8,"strokeDash":[2,3],"yOffset":-1.8,"strokeDashOffset":-1.8},"encoding":{"x":{"datum":0,"type":"quantitative"},"x2":{"field":"v"}}},
  {"transform":[{"filter":"datum.d=='2−5 cm'"}],"mark":{"type":"rule","color":"#1a1a1a","strokeWidth":1.8,"strokeDash":[2,3],"yOffset":0,"strokeDashOffset":0},"encoding":{"x":{"datum":0,"type":"quantitative"},"x2":{"field":"v"}}},
  {"transform":[{"filter":"datum.d=='2−5 cm'"}],"mark":{"type":"rule","color":"#1a1a1a","strokeWidth":1.8,"strokeDash":[2,3],"yOffset":1.8,"strokeDashOffset":1.8},"encoding":{"x":{"datum":0,"type":"quantitative"},"x2":{"field":"v"}}},
  {"transform":[{"filter":"datum.d=='2−5 cm'"}],"mark":{"type":"rule","color":"#1a1a1a","strokeWidth":1.8,"strokeDash":[2,3],"yOffset":3.6,"strokeDashOffset":3.6},"encoding":{"x":{"datum":0,"type":"quantitative"},"x2":{"field":"v"}}},
  {"mark":{"type":"rule","color":"#111111","strokeWidth":1.2},"encoding":{"yOffset":{"field":"d","type":"nominal","scale":{"domain":["5−10 cm","2−5 cm","0−2 cm"],"paddingInner":0,"paddingOuter":0}},"x2":{"field":"hi"}}},
  {"mark":{"type":"tick","color":"#111111","thickness":1.2,"size":8},"encoding":{"yOffset":{"field":"d","type":"nominal","scale":{"domain":["5−10 cm","2−5 cm","0−2 cm"],"paddingInner":0,"paddingOuter":0}},"x":{"field":"hi","type":"quantitative"}}},
  {"transform":[{"filter":"datum.c=='Upper canopy'&&datum.d=='0−2 cm'"}],"mark":{"type":"text","align":"right","baseline":"middle","dx":-11,"dy":-18,"fontSize":22,"color":"#1a1a1a","text":"(d)"},"encoding":{"x":{"datum":0.3,"type":"quantitative"}}}
 ]},
{"width":172,"height":219,"title":{"text":"Lianas","dx":85},"data":{"name":"d"},"transform":[{"filter":"datum.g=='L'&&datum.m=='s'"}],
 "encoding":{"y":{"field":"c","type":"nominal","scale":{"domain":["Upper canopy","Mid canopy","Lower canopy","Bottom 2 m"],"paddingInner":0.31,"paddingOuter":0.67},"axis":null},
  "x":{"field":"v","type":"quantitative","scale":{"domain":[0,0.18],"nice":false},"axis":{"values":[0,0.06,0.12,0.18],"labelExpr":"datum.value>0.17?'':datum.label","title":["Surface area","(m² m⁻²)"]}}},
 "layer":[
  {"mark":{"type":"bar","stroke":"#1a1a1a","strokeWidth":1},"encoding":{"yOffset":{"field":"d","type":"nominal","scale":{"domain":["5−10 cm","2−5 cm","0−2 cm"],"paddingInner":0,"paddingOuter":0}},"fill":{"field":"d","type":"nominal","scale":{"domain":["0−2 cm","2−5 cm","5−10 cm"],"range":["#d3d3d3","#ffffff","#858585"]},"legend":null}}},
  {"transform":[{"filter":"datum.d=='2−5 cm'"}],"mark":{"type":"rule","color":"#1a1a1a","strokeWidth":1.8,"strokeDash":[2,3],"yOffset":-3.6,"strokeDashOffset":-3.6},"encoding":{"x":{"datum":0,"type":"quantitative"},"x2":{"field":"v"}}},
  {"transform":[{"filter":"datum.d=='2−5 cm'"}],"mark":{"type":"rule","color":"#1a1a1a","strokeWidth":1.8,"strokeDash":[2,3],"yOffset":-1.8,"strokeDashOffset":-1.8},"encoding":{"x":{"datum":0,"type":"quantitative"},"x2":{"field":"v"}}},
  {"transform":[{"filter":"datum.d=='2−5 cm'"}],"mark":{"type":"rule","color":"#1a1a1a","strokeWidth":1.8,"strokeDash":[2,3],"yOffset":0,"strokeDashOffset":0},"encoding":{"x":{"datum":0,"type":"quantitative"},"x2":{"field":"v"}}},
  {"transform":[{"filter":"datum.d=='2−5 cm'"}],"mark":{"type":"rule","color":"#1a1a1a","strokeWidth":1.8,"strokeDash":[2,3],"yOffset":1.8,"strokeDashOffset":1.8},"encoding":{"x":{"datum":0,"type":"quantitative"},"x2":{"field":"v"}}},
  {"transform":[{"filter":"datum.d=='2−5 cm'"}],"mark":{"type":"rule","color":"#1a1a1a","strokeWidth":1.8,"strokeDash":[2,3],"yOffset":3.6,"strokeDashOffset":3.6},"encoding":{"x":{"datum":0,"type":"quantitative"},"x2":{"field":"v"}}},
  {"mark":{"type":"rule","color":"#111111","strokeWidth":1.2},"encoding":{"yOffset":{"field":"d","type":"nominal","scale":{"domain":["5−10 cm","2−5 cm","0−2 cm"],"paddingInner":0,"paddingOuter":0}},"x2":{"field":"hi"}}},
  {"mark":{"type":"tick","color":"#111111","thickness":1.2,"size":8},"encoding":{"yOffset":{"field":"d","type":"nominal","scale":{"domain":["5−10 cm","2−5 cm","0−2 cm"],"paddingInner":0,"paddingOuter":0}},"x":{"field":"hi","type":"quantitative"}}},
  {"transform":[{"filter":"datum.c=='Upper canopy'&&datum.d=='0−2 cm'"}],"mark":{"type":"text","align":"right","baseline":"middle","dx":-11,"dy":-18,"fontSize":22,"color":"#1a1a1a","text":"(h)"},"encoding":{"x":{"datum":0.18,"type":"quantitative"}}}
 ]},
{"width":173,"height":219,"data":{"name":"d"},"transform":[{"filter":"datum.g=='L'&&datum.m=='e'"}],
 "encoding":{"y":{"field":"c","type":"nominal","scale":{"domain":["Upper canopy","Mid canopy","Lower canopy","Bottom 2 m"],"paddingInner":0.31,"paddingOuter":0.67},"axis":null},
  "x":{"field":"v","type":"quantitative","scale":{"domain":[0,4],"nice":false},"axis":{"values":[0,1,2,3,4],"labelExpr":"datum.value>3.9?'':datum.label","title":["Mean efflux per","surface area","(μmol m⁻² s⁻¹)"]}}},
 "layer":[
  {"mark":{"type":"bar","stroke":"#1a1a1a","strokeWidth":1},"encoding":{"yOffset":{"field":"d","type":"nominal","scale":{"domain":["5−10 cm","2−5 cm","0−2 cm"],"paddingInner":0,"paddingOuter":0}},"fill":{"field":"d","type":"nominal","scale":{"domain":["0−2 cm","2−5 cm","5−10 cm"],"range":["#d3d3d3","#ffffff","#858585"]},"legend":null}}},
  {"transform":[{"filter":"datum.d=='2−5 cm'"}],"mark":{"type":"rule","color":"#1a1a1a","strokeWidth":1.8,"strokeDash":[2,3],"yOffset":-3.6,"strokeDashOffset":-3.6},"encoding":{"x":{"datum":0,"type":"quantitative"},"x2":{"field":"v"}}},
  {"transform":[{"filter":"datum.d=='2−5 cm'"}],"mark":{"type":"rule","color":"#1a1a1a","strokeWidth":1.8,"strokeDash":[2,3],"yOffset":-1.8,"strokeDashOffset":-1.8},"encoding":{"x":{"datum":0,"type":"quantitative"},"x2":{"field":"v"}}},
  {"transform":[{"filter":"datum.d=='2−5 cm'"}],"mark":{"type":"rule","color":"#1a1a1a","strokeWidth":1.8,"strokeDash":[2,3],"yOffset":0,"strokeDashOffset":0},"encoding":{"x":{"datum":0,"type":"quantitative"},"x2":{"field":"v"}}},
  {"transform":[{"filter":"datum.d=='2−5 cm'"}],"mark":{"type":"rule","color":"#1a1a1a","strokeWidth":1.8,"strokeDash":[2,3],"yOffset":1.8,"strokeDashOffset":1.8},"encoding":{"x":{"datum":0,"type":"quantitative"},"x2":{"field":"v"}}},
  {"transform":[{"filter":"datum.d=='2−5 cm'"}],"mark":{"type":"rule","color":"#1a1a1a","strokeWidth":1.8,"strokeDash":[2,3],"yOffset":3.6,"strokeDashOffset":3.6},"encoding":{"x":{"datum":0,"type":"quantitative"},"x2":{"field":"v"}}},
  {"mark":{"type":"rule","color":"#111111","strokeWidth":1.2},"encoding":{"yOffset":{"field":"d","type":"nominal","scale":{"domain":["5−10 cm","2−5 cm","0−2 cm"],"paddingInner":0,"paddingOuter":0}},"x":{"field":"lo","type":"quantitative"},"x2":{"field":"hi"}}},
  {"mark":{"type":"tick","color":"#111111","thickness":1.2,"size":8},"encoding":{"yOffset":{"field":"d","type":"nominal","scale":{"domain":["5−10 cm","2−5 cm","0−2 cm"],"paddingInner":0,"paddingOuter":0}},"x":{"field":"lo","type":"quantitative"}}},
  {"mark":{"type":"tick","color":"#111111","thickness":1.2,"size":8},"encoding":{"yOffset":{"field":"d","type":"nominal","scale":{"domain":["5−10 cm","2−5 cm","0−2 cm"],"paddingInner":0,"paddingOuter":0}},"x":{"field":"hi","type":"quantitative"}}},
  {"transform":[{"filter":"datum.c=='Upper canopy'&&datum.d=='0−2 cm'"}],"mark":{"type":"text","align":"right","baseline":"middle","dx":-11,"dy":-18,"fontSize":22,"color":"#1a1a1a","text":"(l)"},"encoding":{"x":{"datum":4,"type":"quantitative"}}}
 ]},
{"width":172,"height":219,"data":{"name":"d"},"transform":[{"filter":"datum.g=='L'&&datum.m=='t'"}],
 "encoding":{"y":{"field":"c","type":"nominal","scale":{"domain":["Upper canopy","Mid canopy","Lower canopy","Bottom 2 m"],"paddingInner":0.31,"paddingOuter":0.67},"axis":null},
  "x":{"field":"v","type":"quantitative","scale":{"domain":[0,0.18],"nice":false},"axis":{"values":[0,0.06,0.12,0.18],"title":["Total efflux per","ground area","(μmol m⁻² s⁻¹)"]}}},
 "layer":[
  {"mark":{"type":"bar","stroke":"#1a1a1a","strokeWidth":1},"encoding":{"yOffset":{"field":"d","type":"nominal","scale":{"domain":["5−10 cm","2−5 cm","0−2 cm"],"paddingInner":0,"paddingOuter":0}},"fill":{"field":"d","type":"nominal","scale":{"domain":["0−2 cm","2−5 cm","5−10 cm"],"range":["#d3d3d3","#ffffff","#858585"]},"legend":null}}},
  {"transform":[{"filter":"datum.d=='2−5 cm'"}],"mark":{"type":"rule","color":"#1a1a1a","strokeWidth":1.8,"strokeDash":[2,3],"yOffset":-3.6,"strokeDashOffset":-3.6},"encoding":{"x":{"datum":0,"type":"quantitative"},"x2":{"field":"v"}}},
  {"transform":[{"filter":"datum.d=='2−5 cm'"}],"mark":{"type":"rule","color":"#1a1a1a","strokeWidth":1.8,"strokeDash":[2,3],"yOffset":-1.8,"strokeDashOffset":-1.8},"encoding":{"x":{"datum":0,"type":"quantitative"},"x2":{"field":"v"}}},
  {"transform":[{"filter":"datum.d=='2−5 cm'"}],"mark":{"type":"rule","color":"#1a1a1a","strokeWidth":1.8,"strokeDash":[2,3],"yOffset":0,"strokeDashOffset":0},"encoding":{"x":{"datum":0,"type":"quantitative"},"x2":{"field":"v"}}},
  {"transform":[{"filter":"datum.d=='2−5 cm'"}],"mark":{"type":"rule","color":"#1a1a1a","strokeWidth":1.8,"strokeDash":[2,3],"yOffset":1.8,"strokeDashOffset":1.8},"encoding":{"x":{"datum":0,"type":"quantitative"},"x2":{"field":"v"}}},
  {"transform":[{"filter":"datum.d=='2−5 cm'"}],"mark":{"type":"rule","color":"#1a1a1a","strokeWidth":1.8,"strokeDash":[2,3],"yOffset":3.6,"strokeDashOffset":3.6},"encoding":{"x":{"datum":0,"type":"quantitative"},"x2":{"field":"v"}}},
  {"mark":{"type":"rule","color":"#111111","strokeWidth":1.2},"encoding":{"yOffset":{"field":"d","type":"nominal","scale":{"domain":["5−10 cm","2−5 cm","0−2 cm"],"paddingInner":0,"paddingOuter":0}},"x2":{"field":"hi"}}},
  {"mark":{"type":"tick","color":"#111111","thickness":1.2,"size":8},"encoding":{"yOffset":{"field":"d","type":"nominal","scale":{"domain":["5−10 cm","2−5 cm","0−2 cm"],"paddingInner":0,"paddingOuter":0}},"x":{"field":"hi","type":"quantitative"}}},
  {"transform":[{"filter":"datum.c=='Upper canopy'&&datum.d=='0−2 cm'"}],"mark":{"type":"text","align":"right","baseline":"middle","dx":-11,"dy":-18,"fontSize":22,"color":"#1a1a1a","text":"(p)"},"encoding":{"x":{"datum":0.18,"type":"quantitative"}}}
 ]}
]
}
